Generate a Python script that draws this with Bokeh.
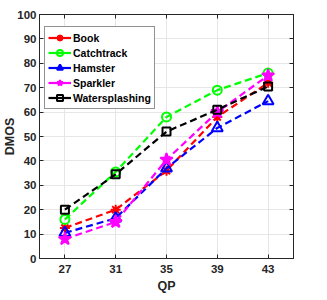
from bokeh.plotting import figure
from bokeh.models import (ColumnDataSource, Legend, LegendItem, LinearAxis, FixedTicker,
                          Range1d, CustomJSTickFormatter)
from bokeh.embed import file_html
from bokeh.resources import INLINE

qp = [27, 31, 35, 39, 43]
book = [12.5, 20, 36, 58, 72]
catchtrack = [16, 35.5, 58, 69, 76]
hamster = [10.5, 16.5, 37, 53.5, 64.5]
sparkler = [8, 15, 40.5, 60, 75]
watersplashing = [20, 34.5, 52, 61, 70.5]
names = ["Book", "Catchtrack", "Hamster", "Sparkler", "Watersplashing"]
yticks = list(range(0, 101, 10))

FONT = "Liberation Sans"
TXT = "#262626"

p = figure(width=311, height=300, output_backend="svg", toolbar_location=None,
           x_range=Range1d(25, 45), y_range=Range1d(0, 100),
           min_border_left=32, min_border_right=18, min_border_top=14, min_border_bottom=42)
p.background_fill_color = "white"
p.border_fill_color = "white"
p.outline_line_color = TXT
p.outline_line_width = 1

for ax in (p.xaxis[0], p.yaxis[0]):
    ax.major_tick_in = 4
    ax.major_tick_out = 0
    ax.minor_tick_in = 0
    ax.minor_tick_out = 0
    ax.axis_line_color = TXT
    ax.major_tick_line_color = TXT
    ax.major_label_text_font = FONT
    ax.major_label_text_font_style = "bold"
    ax.major_label_text_font_size = "11.5px"
    ax.major_label_text_color = TXT
    ax.axis_label_text_font = FONT
    ax.axis_label_text_font_style = "bold"
    ax.axis_label_text_font_size = "12.5px"
    ax.axis_label_text_color = TXT
p.xaxis.ticker = FixedTicker(ticks=qp)
p.yaxis.ticker = FixedTicker(ticks=yticks)
p.xaxis.axis_label = "QP"
p.yaxis.axis_label = "DMOS"
p.xaxis.axis_label_standoff = 3
p.yaxis.axis_label_standoff = -3
p.xaxis.major_label_standoff = 6
p.yaxis.major_label_standoff = 3

blank = CustomJSTickFormatter(code="return ''")
for loc, tk in (("right", yticks), ("above", qp)):
    ax = LinearAxis(ticker=FixedTicker(ticks=tk), major_tick_in=4, major_tick_out=0,
                    minor_tick_in=0, minor_tick_out=0, axis_line_color=TXT,
                    major_tick_line_color=TXT, formatter=blank,
                    major_label_standoff=0)
    p.add_layout(ax, loc)

p.grid.grid_line_color = "#e6e6e6"
p.grid.grid_line_width = 1
p.xgrid.ticker = FixedTicker(ticks=qp)
p.ygrid.ticker = FixedTicker(ticks=yticks)

series = [book, catchtrack, hamster, sparkler, watersplashing]
colors = ["#ff0000", "#00ff00", "#0000ff", "#ff00ff", "#000000"]
markers = ["asterisk", "circle", "triangle", "star", "square"]
sizes = [10, 9, 11, 13, 8]
fills = ["#ff0000", None, None, "#ff00ff", None]

nan = float("nan")
items = []
for nm, ys, c, m, s, f in zip(names, series, colors, markers, sizes, fills):
    src = ColumnDataSource(dict(x=qp, y=ys))
    p.line("x", "y", source=src, line_color=c, line_width=2.2, line_dash="7 4")
    p.scatter("x", "y", source=src, marker=m, size=s, line_color=c, line_width=2,
              fill_color=f)
    if m == "asterisk":
        p.scatter("x", "y", source=src, marker="circle", size=5, line_color=c, fill_color=c)
    dummy = ColumnDataSource(dict(x=[nan], y=[nan]))
    lr = p.line("x", "y", source=dummy, line_color=c, line_width=2.2)
    mr = p.scatter("x", "y", source=dummy, marker=m, size=s, line_color=c, line_width=2,
                   fill_color=f)
    rs = [lr, mr]
    if m == "asterisk":
        rs.append(p.scatter("x", "y", source=dummy, marker="circle", size=5,
                            line_color=c, fill_color=c))
    items.append(LegendItem(label=nm, renderers=rs))

legend = Legend(items=items, location=(5, 149), orientation="vertical")
legend.label_text_font = FONT
legend.label_text_font_style = "bold"
legend.label_text_font_size = "10.5px"
legend.label_text_color = "#000000"
legend.glyph_width = 23
legend.glyph_height = 15
legend.label_height = 15
legend.spacing = 0
legend.padding = 3
legend.margin = 0
legend.label_standoff = 2
legend.border_line_color = TXT
legend.border_line_width = 1
legend.background_fill_color = "white"
legend.background_fill_alpha = 1
p.add_layout(legend, "center")

open("out.html", "w").write(file_html(p, INLINE))
